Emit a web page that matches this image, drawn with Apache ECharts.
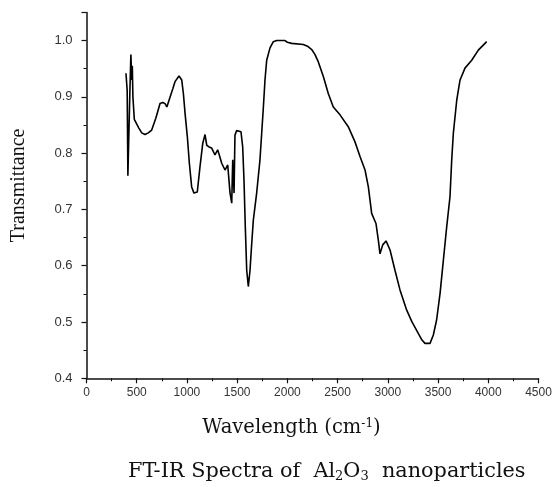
<!DOCTYPE html>
<html>
<head>
<meta charset="utf-8">
<script src="https://cdn.jsdelivr.net/npm/echarts@6/dist/echarts.min.js"></script>
<style>
  html, body { margin: 0; padding: 0; background: #fff; }
  #chart { width: 556px; height: 487px; }
</style>
</head>
<body>
<div id="chart"></div>
<script>
// FT-IR spectrum of Al2O3 nanoparticles
const wavenumber = [
  393, 405, 412, 425, 432, 442, 450, 456, 462, 476, 484, 520, 550, 582, 615, 649, 690, 732, 760, 782,
  800, 815, 838, 860, 881, 921, 948, 965, 981, 1004, 1024, 1047, 1070, 1103, 1130, 1157, 1180, 1197, 1220, 1246,
  1262, 1279, 1306, 1325, 1346, 1379, 1406, 1429, 1446, 1452, 1456, 1462, 1469, 1478, 1495, 1512, 1538, 1555, 1568, 1581,
  1595, 1611, 1628, 1645, 1661, 1694, 1727, 1744, 1761, 1777, 1794, 1827, 1860, 1893, 1976, 2000, 2043, 2158, 2200, 2242,
  2275, 2308, 2358, 2407, 2457, 2524, 2606, 2673, 2723, 2773, 2806, 2839, 2882, 2905, 2922, 2949, 2982, 3022, 3071, 3121,
  3188, 3238, 3303, 3340, 3370, 3420, 3453, 3486, 3520, 3553, 3586, 3619, 3636, 3652, 3686, 3719, 3768, 3835, 3901, 3984
];
const transmittance = [
  0.942, 0.911, 0.760, 0.758, 0.910, 0.975, 0.930, 0.955, 0.900, 0.860, 0.859, 0.845, 0.836, 0.833, 0.836, 0.841, 0.862, 0.888, 0.890, 0.888,
  0.882, 0.880, 0.903, 0.915, 0.927, 0.937, 0.930, 0.905, 0.871, 0.829, 0.782, 0.740, 0.729, 0.731, 0.776, 0.817, 0.833, 0.814, 0.811, 0.809,
  0.803, 0.797, 0.806, 0.795, 0.782, 0.770, 0.779, 0.729, 0.711, 0.760, 0.788, 0.760, 0.729, 0.832, 0.840, 0.842, 0.838, 0.811, 0.752, 0.669,
  0.592, 0.563, 0.592, 0.640, 0.681, 0.729, 0.788, 0.835, 0.882, 0.930, 0.965, 0.987, 0.998, 1.000, 1.000, 0.997, 0.995, 0.993, 0.990, 0.984,
  0.975, 0.962, 0.936, 0.906, 0.882, 0.868, 0.847, 0.820, 0.794, 0.770, 0.740, 0.693, 0.675, 0.646, 0.621, 0.637, 0.644, 0.628, 0.592, 0.557,
  0.521, 0.501, 0.480, 0.468, 0.462, 0.462, 0.477, 0.504, 0.551, 0.610, 0.669, 0.723, 0.788, 0.835, 0.894, 0.930, 0.951, 0.965, 0.983, 0.998
];

const chart = echarts.init(document.getElementById('chart'));

const serif = '"Liberation Serif", "DejaVu Serif", serif';
const wideSerif = '"DejaVu Serif", "Liberation Serif", serif';
const sans = '"Liberation Sans", Arial, sans-serif';

const option = {
  animation: false,
  backgroundColor: '#fff',
  title: {
    text: '{t|FT-IR Spectra of  Al}{sub|2}{t|O}{sub|3}{t|  nanoparticles}',
    left: 128,
    top: 459,
    padding: 0,
    textStyle: {
      fontWeight: 'normal',
      rich: {
        t: { fontFamily: wideSerif, fontSize: 20.8, fontWeight: 'normal', color: '#111', lineHeight: 26 },
        sub: { fontFamily: wideSerif, fontSize: 13, fontWeight: 'normal', color: '#111', padding: [9, 0, 0, 0], lineHeight: 26 }
      }
    }
  },
  grid: {
    left: 86.5,
    right: 17.5,
    top: 12.4,
    bottom: 108.7,
    containLabel: false
  },
  xAxis: {
    type: 'value',
    min: 0,
    max: 4500,
    interval: 500,
    name: '{t|Wavelength (cm}{sup|-1}{t|)}',
    nameLocation: 'middle',
    nameGap: 38,
    nameTextStyle: {
      padding: [0, 42, 0, 0],
      rich: {
        t: { fontFamily: wideSerif, fontSize: 19.5, color: '#111', lineHeight: 24 },
        sup: { fontFamily: wideSerif, fontSize: 12, color: '#111', padding: [0, 0, 9, 0], lineHeight: 24 }
      }
    },
    axisLine: { lineStyle: { color: '#111', width: 1.5 } },
    axisTick: { inside: false, length: 5, lineStyle: { color: '#111', width: 1.2 } },
    minorTick: { show: true, splitNumber: 2, length: 3, lineStyle: { color: '#111', width: 1 } },
    axisLabel: {
      fontFamily: sans,
      fontSize: 12,
      color: '#333',
      margin: 8,
      formatter: (v) => String(v)
    },
    splitLine: { show: false }
  },
  yAxis: {
    type: 'value',
    min: 0.4,
    max: 1.05,
    interval: 0.1,
    name: 'Transmittance',
    nameLocation: 'middle',
    nameGap: 58,
    nameTextStyle: {
      fontFamily: serif,
      fontSize: 20,
      color: '#111',
      padding: [0, 0, 0, 20]
    },
    axisLine: { show: true, lineStyle: { color: '#111', width: 1.5 } },
    axisTick: { show: true, inside: false, length: 5, lineStyle: { color: '#111', width: 1.2 } },
    minorTick: { show: true, splitNumber: 2, length: 3, lineStyle: { color: '#111', width: 1 } },
    axisLabel: {
      fontFamily: sans,
      fontSize: 13,
      color: '#333',
      margin: 14,
      showMaxLabel: false,
      formatter: (v) => v.toFixed(1)
    },
    splitLine: { show: false }
  },
  series: [
    {
      type: 'line',
      data: wavenumber.map((w, i) => [w, transmittance[i]]),
      showSymbol: false,
      smooth: false,
      lineStyle: { color: '#000', width: 1.6 }
    }
  ]
};

chart.setOption(option);
</script>
</body>
</html>
